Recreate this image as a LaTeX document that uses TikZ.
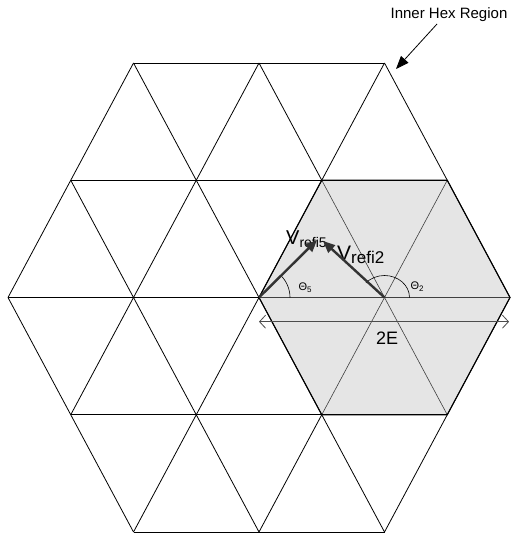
\documentclass[tikz,border=0pt]{standalone}
\usepackage{fontspec}
\setmainfont{Liberation Sans}
\usetikzlibrary{arrows.meta}
\tikzset{
  gridline/.style={draw=black,line width=0.8pt},
  innerline/.style={draw=black!75,line width=0.6pt},
  hexborder/.style={draw=black,line width=1.1pt,line join=miter},
  vecarrow/.style={draw=black!80,line width=2.4pt,-{Triangle[length=12pt,width=10pt]}},
  anglearc/.style={draw=black,line width=0.6pt},
  spanarrow/.style={draw=black!70,line width=0.8pt,{Straight Barb[length=6pt,width=13pt]}-{Straight Barb[length=6pt,width=13pt]}},
  callout/.style={draw=black,line width=0.8pt,-{Triangle[length=13pt,width=10pt]}},
  lbl/.style={inner sep=0pt,text=black},
}
\begin{document}
\begin{tikzpicture}[x=1pt,y=-1pt]
\path[use as bounding box,fill=white] (0,0) rectangle (515,534);
% lattice vertices
\foreach \i/\j in {2/0,4/0,6/0,1/1,3/1,5/1,7/1,0/2,2/2,4/2,6/2,8/2,1/3,3/3,5/3,7/3,2/4,4/4,6/4}
  \coordinate (p\i\j) at ({8+62.75*\i},{63+117.25*\j});
% shaded inner hex
\fill[black!10] (p51) -- (p71) -- (p82) -- (p73) -- (p53) -- (p42) -- cycle;
% outer lattice lines
\draw[gridline] (p20) -- (p60);
\draw[gridline] (p11) -- (p71);
\draw[gridline] (p02) -- (p42);
\draw[gridline] (p13) -- (p73);
\draw[gridline] (p24) -- (p64);
\draw[gridline] (p60) -- (p82);
\draw[gridline] (p40) -- (p51);
\draw[gridline] (p20) -- (p64);
\draw[gridline] (p11) -- (p44);
\draw[gridline] (p02) -- (p24);
\draw[gridline] (p20) -- (p02);
\draw[gridline] (p40) -- (p13);
\draw[gridline] (p60) -- (p24);
\draw[gridline] (p53) -- (p44);
\draw[gridline] (p82) -- (p64);
% inner lines of shaded hex
\draw[innerline] (p51) -- (p73);
\draw[innerline] (p71) -- (p53);
\draw[innerline] (p42) -- (p82);
\draw[hexborder] (p51) -- (p71) -- (p82) -- (p73) -- (p53) -- (p42) -- cycle;
% span arrow 2E
\coordinate (sa) at (259,321.7);
\coordinate (sb) at (509,321.7);
\draw[spanarrow] (sa) -- (sb);
\node[lbl,font=\fontsize{18}{20}\selectfont] (twoE) at (387,338.5) {2E};
% angle arcs
\draw[anglearc] (p42) ++(31,0) arc[start angle=0,end angle=-44.5,radius=31];
\draw[anglearc] (p62) ++(25,0) arc[start angle=0,end angle=-138,x radius=25,y radius=22];
\node[lbl,font=\fontsize{11}{13}\selectfont] (th5) at (305,288) {Θ\raisebox{-2pt}{\fontsize{8}{9}\selectfont 5}};
\node[lbl,font=\fontsize{11}{13}\selectfont] (th2) at (417,287) {Θ\raisebox{-2pt}{\fontsize{8}{9}\selectfont 2}};
% vector labels
\node[lbl,anchor=base west,font=\fontsize{20}{24}\selectfont] (v5) at (286,244) {V\raisebox{-3pt}{\fontsize{14}{16}\selectfont refi5}};
\node[lbl,anchor=base west,font=\fontsize{21}{25}\selectfont] (v2) at (337,260) {V\raisebox{-3pt}{\fontsize{17}{19}\selectfont refi2}};
% vectors
\coordinate (t5) at (317,240);
\coordinate (t2) at (323,241);
\draw[vecarrow] (p42) -- (t5);
\draw[vecarrow] (p62) -- (t2);
% callout
\node[lbl,font=\fontsize{15}{17}\selectfont] (inner) at (449,15) {Inner Hex Region};
\coordinate (c1) at (437,24);
\coordinate (c2) at (396,69);
\draw[callout] (c1) -- (c2);
\end{tikzpicture}
\end{document}
